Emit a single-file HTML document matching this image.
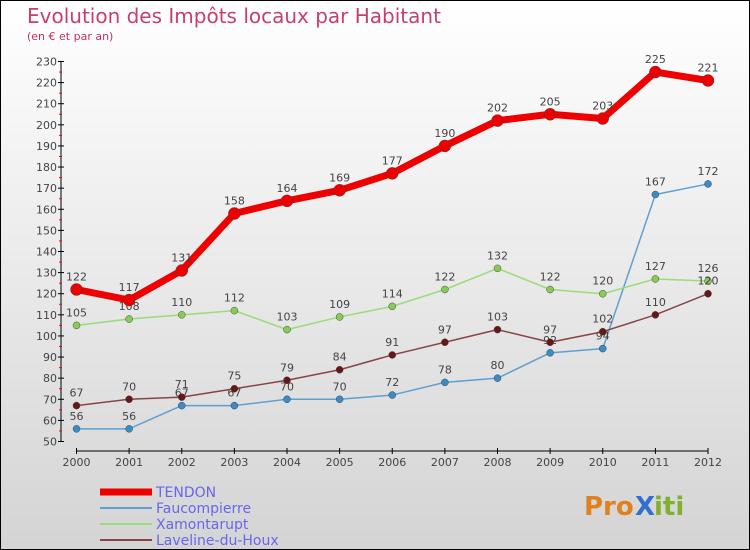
<!DOCTYPE html>
<html><head><meta charset="utf-8"><style>
body{margin:0}
#c{width:750px;height:550px;position:relative;box-sizing:border-box;border:1px solid #000;background:linear-gradient(#fff,#d4d4d4);font-family:"DejaVu Sans","Liberation Sans",sans-serif;overflow:hidden}
svg{position:absolute;left:0;top:0}
</style></head><body>
<div id="c">
<svg id="s" width="750" height="550">
<text x="26" y="22" font-size="20" fill="#c8406a">Evolution des Impôts locaux par Habitant</text>
<text x="26" y="39" font-size="11" fill="#c03060">(en € et par an)</text>
<g id="axes"></g><g id="series"></g><g id="legend"></g>
<g font-size="26" font-weight="bold">
<text x="583" y="514" fill="#e08020">Pro</text><text x="634" y="514" fill="#3070d0">X</text><text x="653" y="514" fill="#80b030">iti</text>
</g>
</svg>
</div>
<script>
const years=[2000,2001,2002,2003,2004,2005,2006,2007,2008,2009,2010,2011,2012];
const tendon=[122,117,131,158,164,169,177,190,202,205,203,225,221];
const faucompierre=[56,56,67,67,70,70,72,78,80,92,94,167,172];
const xamontarupt=[105,108,110,112,103,109,114,122,132,122,120,127,126];
const laveline=[67,70,71,75,79,84,91,97,103,97,102,110,120];
const yTicks=[50,60,70,80,90,100,110,120,130,140,150,160,170,180,190,200,210,220,230];
const NS="http://www.w3.org/2000/svg";
function X(i){return 75.5+i*(707-75.5)/12;}
function Y(v){return 440.5-(v-50)*(380/180);}
function mk(t,a,p){const e=document.createElementNS(NS,t);for(const k in a)e.setAttribute(k,a[k]);p.appendChild(e);return e;}
const ax=document.getElementById('axes');
let yl=mk('line',{x1:60,y1:Y(230),x2:60,y2:Y(50),stroke:'#000'},ax);


yTicks.forEach(v=>{
 mk('line',{x1:57,x2:63,y1:Y(v),y2:Y(v),stroke:'#000'},ax);
 if(v<230)mk('line',{x1:58,x2:61,y1:Y(v+5),y2:Y(v+5),stroke:'#f00'},ax);
 const t=mk('text',{x:56,y:Y(v)+4,'text-anchor':'end','font-size':11,fill:'#444'},ax);
 
 
 t.textContent=v;
});
let xl=mk('line',{x1:75.5,y1:450,x2:707,y2:450,stroke:'#000'},ax);


years.forEach((y,i)=>{
 mk('line',{x1:X(i),x2:X(i),y1:447,y2:453,stroke:'#000'},ax);
 const t=mk('text',{x:X(i),y:465,'text-anchor':'middle','font-size':11,fill:'#444'},ax);
 
 
 t.textContent=y;
});
const sg=document.getElementById('series');
function draw(data,color,w,r,dot,name){
 const g=mk('g',{},sg);
 
 
 mk('polyline',{points:data.map((v,i)=>X(i)+','+Y(v)).join(' '),fill:'none',stroke:color,'stroke-width':w,'stroke-linejoin':'round'},g);
 data.forEach((v,i)=>{
  const c=mk('circle',{cx:X(i),cy:Y(v),r:r,fill:dot,stroke:'#444','stroke-width':0.5},g);
  
  
  const t=mk('text',{x:X(i),y:Y(v)-9,'text-anchor':'middle','font-size':11,fill:'#444'},g);
  
  
  t.textContent=v;
 });
}
draw(faucompierre,'#5fa0d0',1.5,3.5,'#3a8cc8','faucompierre-series');
draw(xamontarupt,'#99dd77',1.5,3.5,'#88cc55','xamontarupt-series');
draw(laveline,'#884444',1.5,3.5,'#661818','laveline-series');
draw(tendon,'#ee0000',7,6,'#ee0000','tendon-series');
const lg=document.getElementById('legend');
const names=['TENDON','Faucompierre','Xamontarupt','Laveline-du-Houx'];
const cols=['#ee0000','#5fa0d0','#99dd77','#884444'];
const ws=[7,2,2,2];
names.forEach((n,i)=>{
 const g=mk('g',{},lg);
 
 
 const y=491+i*16;
 mk('line',{x1:99,x2:151,y1:y,y2:y,stroke:cols[i],'stroke-width':ws[i]},g);
 const t=mk('text',{x:155,y:y+5,'font-size':14,fill:'#6666ee'},g);
 t.textContent=n;
});
</script>
</body></html>
